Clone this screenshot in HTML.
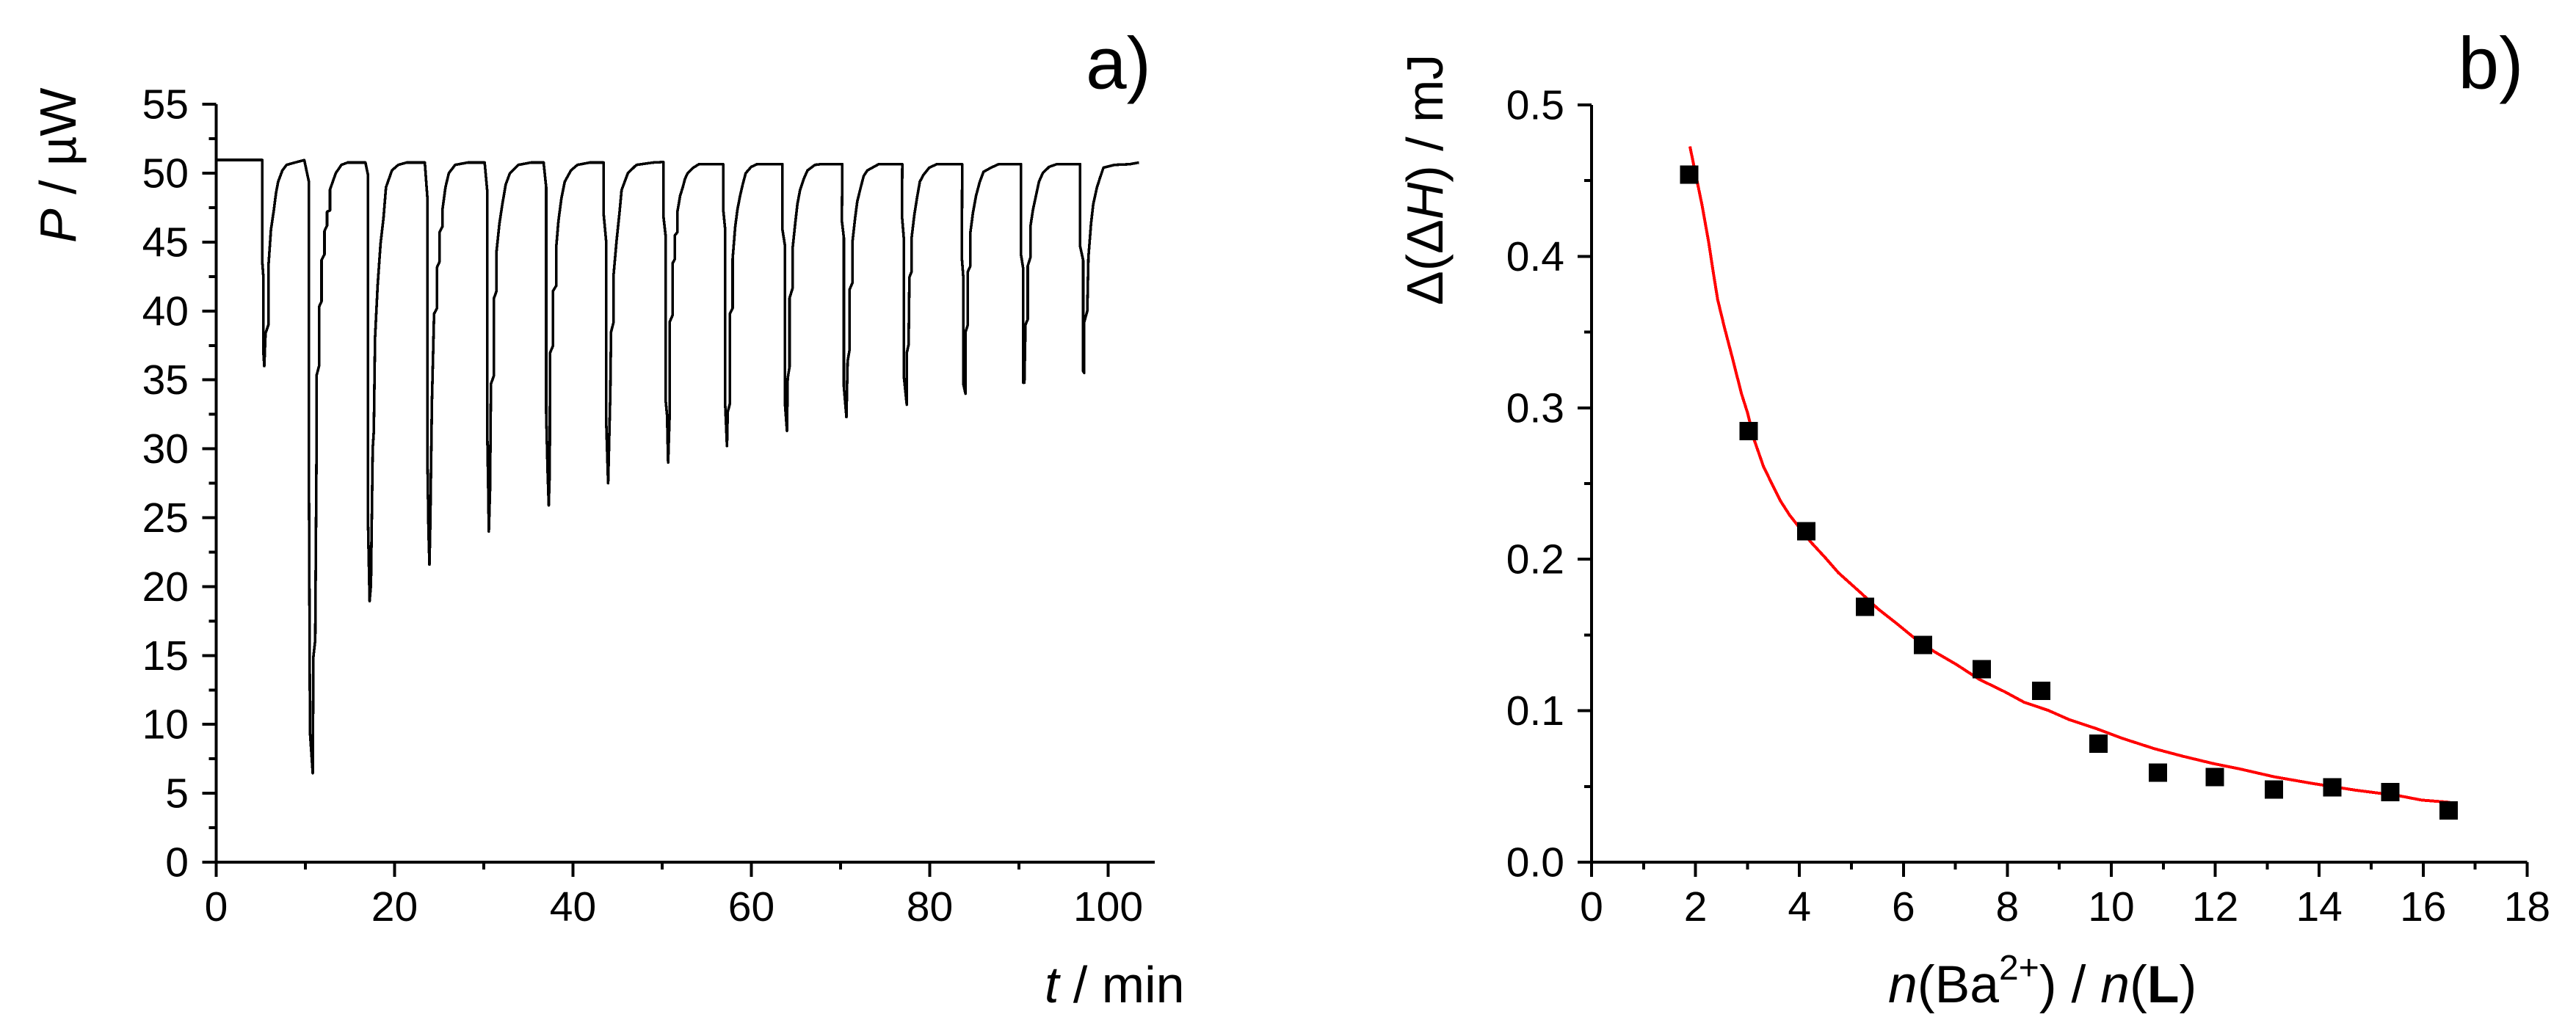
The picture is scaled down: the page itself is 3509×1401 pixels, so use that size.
<!DOCTYPE html>
<html lang="en">
<head>
<meta charset="utf-8">
<title>Calorimetric titration with Ba2+</title>
<style>
  html, body { margin: 0; padding: 0; background: #fff; }
  svg { display: block; }
  text { font-family: "Liberation Sans", Arial, sans-serif; fill: #000; }
  .tick-label { font-size: 57px; }
  .axis-title { font-size: 70px; }
  .panel-label { font-size: 100px; }
  .ax { stroke: #000; stroke-width: 4; fill: none; shape-rendering: crispEdges; }
</style>
</head>
<body>
<svg id="figure" xmlns="http://www.w3.org/2000/svg" width="3509" height="1401" viewBox="0 0 3509 1401">
  <rect x="0" y="0" width="3509" height="1401" fill="#fff"/>
  <g id="panel-a"></g>
  <g id="panel-b"></g>

  <text class="panel-label" x="1479" y="120.5">a)</text>
  <text class="panel-label" x="3348.5" y="120.5">b)</text>

  <text class="axis-title" transform="translate(103 331) rotate(-90)"><tspan font-style="italic">P</tspan> / µW</text>
  <text class="axis-title" x="1423" y="1366"><tspan font-style="italic">t</tspan> / min</text>

  <text class="axis-title" transform="translate(1965 416) rotate(-90)">Δ(Δ<tspan font-style="italic">H</tspan>) / mJ</text>
  <text class="axis-title" style="font-size:71.5px" x="2572" y="1366"><tspan font-style="italic">n</tspan>(Ba<tspan font-size="48" dy="-31">2+</tspan><tspan dy="31">)</tspan> / <tspan font-style="italic">n</tspan>(<tspan font-weight="bold">L</tspan>)</text>
</svg>

<script>
// ---------- Panel a data ----------
const aMajorXTicks = [0, 20, 40, 60, 80, 100];
const aMinorXTicks = [10, 30, 50, 70, 90];
const aMajorYTicks = [0, 5, 10, 15, 20, 25, 30, 35, 40, 45, 50, 55];
const aMinorYTicks = [2.5, 7.5, 12.5, 17.5, 22.5, 27.5, 32.5, 37.5, 42.5, 47.5, 52.5];

const traceTime = [
  0,5.15,5.15,5.29,5.29,5.39,5.53,5.86,5.86,6.14,6.47,6.71,6.95,7.42,7.89,8.83,
  9.88,10.39,10.39,10.52,10.82,10.9,11.1,11.24,11.24,11.53,11.53,11.81,11.81,12.14,12.14,12.43,12.43,12.76,12.76,13.08,13.41,14.03,14.74,
  16.73,17.01,17.01,17.2,17.35,17.55,17.67,17.81,18.1,18.43,18.76,19.04,19.7,20.41,21.36,
  23.39,23.67,23.67,23.8,23.91,24,24.19,24.43,24.76,24.76,25.04,25.04,25.37,25.37,25.7,26.08,26.79,28.21,
  30.1,30.38,30.38,30.5,30.57,30.7,30.81,31.14,31.14,31.42,31.42,31.75,32.08,32.46,32.93,33.88,35.3,
  36.71,37,37,37.15,37.28,37.4,37.42,37.75,37.75,38.13,38.13,38.37,38.7,39.08,39.78,40.49,41.91,
  43.42,43.42,43.71,43.71,43.94,44.18,44.27,44.56,44.56,44.89,45.22,45.45,46.16,47.11,49,
  50.13,50.13,50.38,50.38,50.55,50.67,50.84,50.84,51.18,51.18,51.43,51.43,51.72,51.72,52.02,52.31,52.56,52.86,53.49,54.12,
  56.85,56.85,57.06,57.06,57.27,57.35,57.6,57.6,57.9,57.9,58.19,58.44,58.74,59.03,59.37,59.98,60.63,
  63.48,63.48,63.78,63.78,63.99,64.07,64.28,64.28,64.62,64.62,64.91,65.16,65.46,65.88,66.3,67.13,67.76,
  70.2,70.15,70.37,70.37,70.66,70.79,71,71,71.33,71.33,71.63,71.88,72.26,72.59,73.01,73.85,74.27,
  76.92,76.88,77.09,77.09,77.42,77.42,77.63,77.72,77.97,77.97,78.26,78.56,78.89,79.31,79.94,80.78,
  83.64,83.6,83.76,83.76,84.01,84.01,84.27,84.27,84.56,84.56,84.85,85.19,85.61,86.03,86.87,87.71,
  90.23,90.23,90.48,90.48,90.61,90.73,90.99,90.99,91.28,91.28,91.57,91.91,92.25,92.67,93.38,94.22,
  96.86,96.86,97.2,97.2,97.32,97.32,97.66,97.79,98.08,98.33,98.75,99.05,99.47,100.73,102.41,103.46
];
const tracePower = [
  50.96,50.96,43.68,42.46,37,36,38.38,39,43.27,45.9,47.35,48.57,49.38,50.2,50.6,50.77,
  50.95,49.4,29.2,9.4,6.46,14.9,16.1,29.2,35.3,36,40.3,40.7,43.7,44.1,45.8,46.2,47.2,47.3,48.8,49.4,50,50.6,50.77,
  50.77,49.89,25,18.95,20.1,30,31.25,38.07,41.84,44.9,46.74,48.98,50.2,50.6,50.77,
  50.77,48.26,29.8,24,21.6,24.5,33.49,39.8,40.2,43.17,43.57,45.72,46.12,47.35,48.98,50,50.6,50.77,
  50.77,48.77,31.65,27,24,27,34.71,35.32,40.93,41.44,44.29,46.33,47.75,49.18,50,50.6,50.77,
  50.77,48.98,32.67,28.5,25.9,28.5,36.95,37.46,41.44,41.84,44.7,46.53,48.16,49.38,50.2,50.6,50.77,
  50.77,47.14,45.1,32.26,27.5,33.9,38.48,39.2,42.66,45.1,47.14,48.77,50,50.6,50.77,
  50.81,46.94,45.5,33.59,32.4,29,32.47,39.2,39.7,43.47,43.78,45.5,45.72,47.24,48.37,48.98,49.59,50,50.4,50.65,
  50.65,47.35,45.92,33.28,30.2,32.67,33.28,39.8,40.2,43.78,46.12,47.35,48.37,49.18,50,50.46,50.65,
  50.65,45.92,44.7,33.18,31.3,35.12,35.93,40.93,41.64,44.49,46.33,47.75,48.77,49.59,50.2,50.6,50.65,
  50.65,46.53,45.31,34.51,32.3,36.34,37.16,41.54,42.05,45,46.74,47.96,48.98,49.79,50.2,50.5,50.65,
  50.65,46.94,45.31,35.32,33.2,36.95,37.56,42.45,42.86,45.31,46.94,48.16,49.38,49.89,50.4,50.65,
  50.65,43.88,42.45,34.71,34,38.48,39,42.86,43.27,45.72,47.14,48.37,49.38,50.1,50.4,50.65,
  50.65,44.09,43.07,34.8,34.8,39,39.4,43.27,43.88,46.12,47.35,48.37,49.38,50,50.46,50.65,
  50.65,44.7,43.68,35.63,35.5,39.2,40,43.88,46.33,47.75,48.98,49.59,50.4,50.6,50.65,50.77
];

// ---------- Panel b data ----------
const bMajorXTicks = [0, 2, 4, 6, 8, 10, 12, 14, 16, 18];
const bMinorXTicks = [1, 3, 5, 7, 9, 11, 13, 15, 17];
const bMajorYTicks = [0, 0.1, 0.2, 0.3, 0.4, 0.5];
const bMinorYTicks = [0.05, 0.15, 0.25, 0.35, 0.45];

const pointRatio = [1.88, 3.02, 4.13, 5.26, 6.38, 7.51, 8.65, 9.75, 10.9, 11.99, 13.13, 14.25, 15.37, 16.49];
const pointEnergy = [0.454, 0.2846, 0.2185, 0.1686, 0.1435, 0.1275, 0.1132, 0.0783, 0.0591, 0.0562, 0.048, 0.0494, 0.0463, 0.0341];

const fitRatio = [1.893, 2.124, 2.254, 2.34, 2.427, 2.556, 2.722, 2.881, 3.0, 3.133, 3.31, 3.48, 3.637, 3.81, 4.21, 4.5, 4.75, 5.19, 5.51, 5.87, 6.2, 6.59, 7.02, 7.46, 7.95, 8.32, 8.79, 9.19, 9.7, 10.21, 10.83, 11.38, 11.96, 12.47, 13.13, 13.85, 14.69, 15.53, 15.97, 16.52];
const fitEnergy = [0.4726, 0.4341, 0.4092, 0.3898, 0.3714, 0.3531, 0.3314, 0.3097, 0.2968, 0.2785, 0.2611, 0.2492, 0.2384, 0.2292, 0.2117, 0.2009, 0.1911, 0.1775, 0.1673, 0.1576, 0.1483, 0.1391, 0.1305, 0.1207, 0.1125, 0.1056, 0.1002, 0.0941, 0.0883, 0.0818, 0.0749, 0.0699, 0.0651, 0.0616, 0.0564, 0.0521, 0.0476, 0.0439, 0.041, 0.0395];

// ---------- Axis functions ----------
const axisBottom = 1175;
function xA(t) { return 294.5 + 12.15 * t; }
function yA(p) { return axisBottom - 18.78 * p; }
function xB(r) { return 2168 + 70.8 * r; }
function yB(e) { return axisBottom - 2064 * e; }

const SVG_NS = 'http://www.w3.org/2000/svg';
const panelA = document.getElementById('panel-a');
const panelB = document.getElementById('panel-b');

function makeLine(parent, x1, y1, x2, y2) {
  const el = document.createElementNS(SVG_NS, 'line');
  el.setAttribute('x1', x1);
  el.setAttribute('y1', y1);
  el.setAttribute('x2', x2);
  el.setAttribute('y2', y2);
  el.setAttribute('class', 'ax');
  parent.appendChild(el);
  return el;
}
function makeLabel(parent, x, y, anchor, str) {
  const el = document.createElementNS(SVG_NS, 'text');
  el.setAttribute('x', x);
  el.setAttribute('y', y);
  el.setAttribute('text-anchor', anchor);
  el.setAttribute('class', 'tick-label');
  el.textContent = str;
  parent.appendChild(el);
  return el;
}
function makePolyline(parent, xs, ys, color, width) {
  const el = document.createElementNS(SVG_NS, 'polyline');
  const pts = xs.map(function (x, i) { return x.toFixed(1) + ',' + ys[i].toFixed(1); }).join(' ');
  el.setAttribute('points', pts);
  el.setAttribute('fill', 'none');
  el.setAttribute('stroke', color);
  el.setAttribute('stroke-width', width);
  el.setAttribute('stroke-linejoin', 'round');
  el.setAttribute('shape-rendering', 'crispEdges');
  parent.appendChild(el);
  return el;
}

// ---------- Panel a ----------
const aXLine = makeLine(panelA, xA(0), axisBottom, 1573, axisBottom);


const aYLine = makeLine(panelA, xA(0), yA(55), xA(0), axisBottom);



aMajorXTicks.forEach(function (v) {
  const tick = makeLine(panelA, xA(v), axisBottom, xA(v), axisBottom + 20);
  
  
  const label = makeLabel(panelA, xA(v), 1255, 'middle', String(v));
  
  
});
aMinorXTicks.forEach(function (v) {
  const tick = makeLine(panelA, xA(v), axisBottom, xA(v), axisBottom + 10);
  
  
});
aMajorYTicks.forEach(function (v) {
  const tick = makeLine(panelA, xA(0) - 19, yA(v), xA(0), yA(v));
  
  
  const label = makeLabel(panelA, 257, yA(v) + 19.5, 'end', String(v));
  
  
});
aMinorYTicks.forEach(function (v) {
  const tick = makeLine(panelA, xA(0) - 10, yA(v), xA(0), yA(v));
  
  
});
const traceLine = makePolyline(panelA, traceTime.map(xA), tracePower.map(yA), '#000', 3.6);



// ---------- Panel b ----------
const bXLine = makeLine(panelB, xB(0), axisBottom, xB(18), axisBottom);


const bYLine = makeLine(panelB, xB(0), yB(0.5), xB(0), axisBottom);



bMajorXTicks.forEach(function (v) {
  const tick = makeLine(panelB, xB(v), axisBottom, xB(v), axisBottom + 20);
  
  
  const label = makeLabel(panelB, xB(v), 1255, 'middle', String(v));
  
  
});
bMinorXTicks.forEach(function (v) {
  const tick = makeLine(panelB, xB(v), axisBottom, xB(v), axisBottom + 10);
  
  
});
bMajorYTicks.forEach(function (v) {
  const tick = makeLine(panelB, xB(0) - 19, yB(v), xB(0), yB(v));
  
  
  const label = makeLabel(panelB, 2131, yB(v) + 19.5, 'end', v.toFixed(1));
  
  
});
bMinorYTicks.forEach(function (v) {
  const tick = makeLine(panelB, xB(0) - 10, yB(v), xB(0), yB(v));
  
  
});
const fitLine = makePolyline(panelB, fitRatio.map(xB), fitEnergy.map(yB), '#ff0000', 4);



const markerSize = 25;
pointRatio.forEach(function (r, i) {
  const m = document.createElementNS(SVG_NS, 'rect');
  m.setAttribute('x', xB(r) - markerSize / 2);
  m.setAttribute('y', yB(pointEnergy[i]) - markerSize / 2);
  m.setAttribute('width', markerSize);
  m.setAttribute('height', markerSize);
  m.setAttribute('fill', '#000');
  m.setAttribute('shape-rendering', 'crispEdges');
  
  
  panelB.appendChild(m);
});
</script>
</body>
</html>
